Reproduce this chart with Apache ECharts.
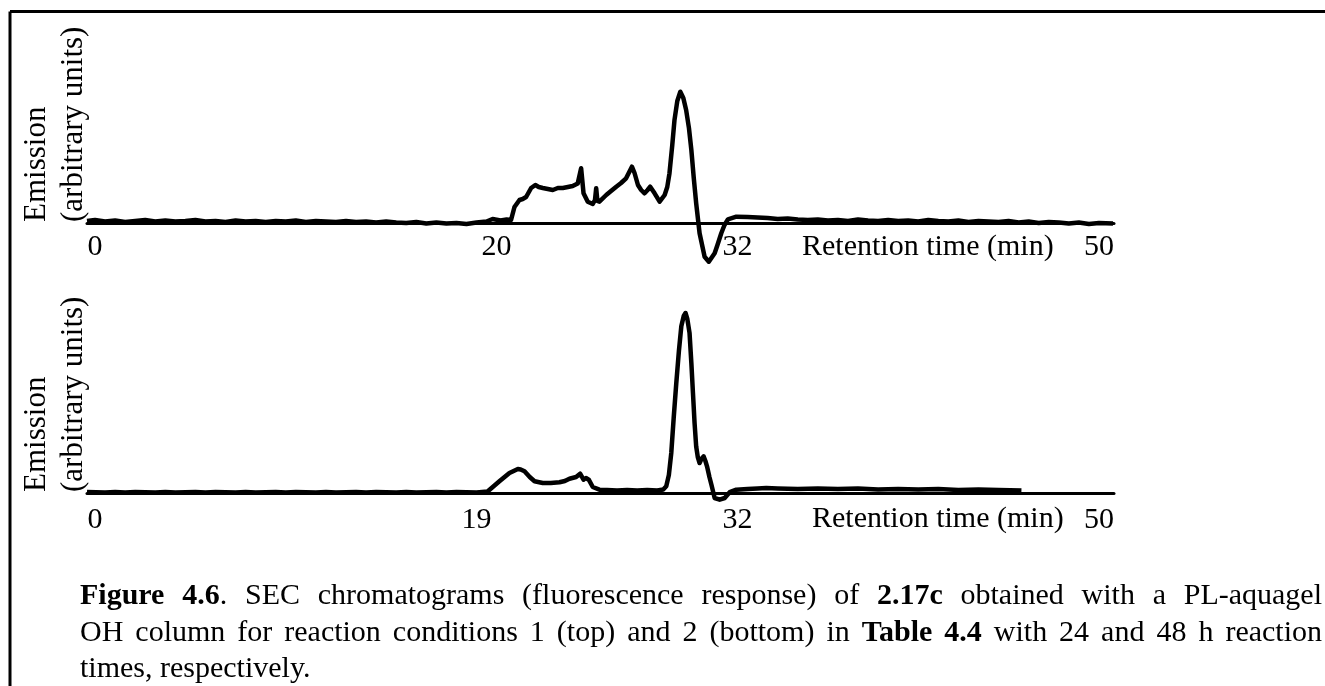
<!DOCTYPE html>
<html>
<head>
<meta charset="utf-8">
<title>SEC chromatograms</title>
<script src="https://cdn.jsdelivr.net/npm/echarts@6/dist/echarts.min.js"></script>
<style>
  html, body { margin: 0; padding: 0; background: #fff; }
  #chart { width: 1325px; height: 686px; }
</style>
</head>
<body>
<div id="chart"></div>
<script>
// retention time (min), emission (arbitrary units)
var topTrace = [
  [-0.4,2],[0,3],[0.5,1.5],[1,2.5],[1.5,1],[2,2],[2.5,3],[3,1.5],[3.5,2.5],[4,1.5],[4.5,2],[5,3],[5.5,1.5],[6,2],[6.5,1],
  [7,2.5],[7.5,1.5],[8,2],[8.5,1],[9,2],[9.5,1.5],[10,2.5],[10.5,1],[11,2],[11.5,1.5],[12,1],[12.5,2],[13,1],[13.5,1.5],
  [14,0.5],[14.5,1.5],[15,0.5],[15.5,0],[16,1],[16.5,-0.5],[17,0.5],[17.5,-0.5],[18,0],[18.5,-1],[19,0.5],[19.5,1.5],
  [19.8,4],[20.2,2.5],[20.5,3.5],[20.72,3],[20.89,16],[21.14,23],[21.3,24],[21.47,26],[21.72,35],[21.93,38],[22.1,36],
  [22.3,35],[22.55,34],[22.8,33],[23.05,35],[23.3,35],[23.55,36],[23.79,37],[24.04,39.5],[24.21,54.7],[24.33,29.7],
  [24.54,21.3],[24.79,19],[24.9,23],[24.96,34.7],[25.02,22],[25.12,21.3],[25.46,28],[25.7,32],[25.96,36.3],[26.2,40],
  [26.45,44.7],[26.74,56.3],[26.87,50],[27.04,38],[27.2,33],[27.37,29.7],[27.52,33],[27.65,36.3],[27.87,29.7],[28.12,21.3],
  [28.37,28],[28.5,36],[28.61,49.7],[28.75,78],[28.86,103],[29.0,122],[29.15,131.3],[29.3,125],[29.44,113],[29.58,95],
  [29.7,73],[29.82,45],[29.94,19.7],[30.11,-10.3],[30.36,-33.7],[30.57,-38.7],[30.86,-30.3],[31.0,-22],[31.19,-10.3],
  [31.35,-2],[31.52,3.7],[31.94,6.3],[32.5,6],[33,5.5],[33.5,5],[34,4],[34.5,4.5],[35,3.5],[35.5,3],[36,3.5],[36.5,2.5],
  [37,3],[37.5,2],[38,3.5],[38.5,2.5],[39,2],[39.5,3],[40,2],[40.5,2.5],[41,1.5],[41.5,3],[42,2],[42.5,1.5],[43,2.5],
  [43.5,1],[44,2],[44.5,1.5],[45,1],[45.5,2],[46,0.5],[46.5,1.5],[47,0],[47.5,1],[48,0.5],[48.5,-0.5],[49,0.5],[49.5,-1],
  [50,0],[50.7,-0.5]
];

var bottomTrace = [
  [-0.4,1],[0.5,0.5],[1,1],[1.5,0.5],[2,1],[3,0.5],[3.5,1],[4,0.5],[5,1],[5.5,0.5],[6,1],[7,0.5],[7.5,1],[8,0.5],[9,1],
  [9.5,0.5],[10,1],[11,0.5],[11.5,1],[12,0.5],[13,1],[13.5,0.5],[14,1],[15,0.5],[15.5,1],[16,0.5],[17,1],[17.5,0.5],
  [18,1],[19,0.5],[19.55,1.5],[20.14,11.7],[20.64,20],[21.06,24],[21.2,23.5],[21.39,21.7],[21.65,16],[21.89,11.7],
  [22.3,10],[22.7,10],[23.13,10.7],[23.4,12],[23.63,14.3],[23.96,16],[24.16,19.3],[24.33,13.3],[24.45,15],[24.59,13.3],
  [24.79,6],[25.12,3.3],[25.5,3],[26,2.5],[26.5,3],[27,2.5],[27.5,3],[28,2.5],[28.3,3.5],[28.45,6.7],[28.58,18],[28.7,40],
  [28.82,75],[28.95,110],[29.08,142],[29.2,166.7],[29.32,177],[29.41,180],[29.5,174],[29.61,160],[29.7,130],[29.78,100],
  [29.86,70],[29.94,46.7],[30.02,36],[30.11,30],[30.2,34],[30.31,36.7],[30.4,32],[30.48,26.7],[30.6,16],[30.7,8.3],
  [30.86,-5],[31.11,-6.7],[31.36,-5],[31.61,0.8],[31.94,3.3],[32.5,4],[33,4.5],[33.43,5],[34,4.5],[35,4],[36,4.5],[37,4],
  [38,4.5],[39,3.5],[40,4],[41,3.5],[42,4],[43,3],[44,3.5],[45,3],[46.14,2.5]
];

var topTicks = [0, 20, 32, 50];
var bottomTicks = [0, 19, 32, 50];

var xTitle = 'Retention time (min)';
var yTitle = ['Emission', '(arbitrary units)'];

// caption words, each word is a list of [text, bold] runs
var captionLines = [
  [[['Figure',1]], [['4.6',1],['.',0]], 'SEC', 'chromatograms', '(fluorescence', 'response)', 'of', [['2.17c',1]],
   'obtained', 'with', 'a', 'PL-aquagel'],
  ['OH', 'column', 'for', 'reaction', 'conditions', '1', '(top)', 'and', '2', '(bottom)', 'in', [['Table',1]], [['4.4',1]],
   'with', '24', 'and', '48', 'h', 'reaction'],
  ['times,', 'respectively.']
];

var FONT = '"Liberation Serif", "Times New Roman", serif';
var CAP_SIZE = 30;

var measureCtx = document.createElement('canvas').getContext('2d');
function measure(text, bold) {
    measureCtx.font = (bold ? 'bold ' : '') + CAP_SIZE + 'px ' + FONT;
    return measureCtx.measureText(text).width;
}

// justified caption lines (last line left aligned)
function captionGraphics(x0, x1, yList) {
    var els = [];
    captionLines.forEach(function (line, li) {
        var words = line.map(function (w) { return typeof w === 'string' ? [[w, 0]] : w; });
        var widths = words.map(function (w) {
            return w.reduce(function (s, r) { return s + measure(r[0], r[1]); }, 0);
        });
        var total = widths.reduce(function (a, b) { return a + b; }, 0);
        var gap = li < captionLines.length - 1 ? (x1 - x0 - total) / (words.length - 1) : measure(' ', 0);
        var x = x0;
        words.forEach(function (w, wi) {
            var rx = x;
            w.forEach(function (r) {
                els.push({
                    type: 'text', x: rx, y: yList[li], silent: true,
                    style: {
                        text: r[0], fill: '#000', fontSize: CAP_SIZE, fontFamily: FONT,
                        fontWeight: r[1] ? 'bold' : 'normal', align: 'left', verticalAlign: 'middle'
                    }
                });
                rx += measure(r[0], r[1]);
            });
            x += widths[wi] + gap;
        });
    });
    return els;
}

function yTitleGraphics(xs, yStart) {
    return yTitle.map(function (t, i) {
        return {
            type: 'text', x: xs[i], y: yStart, rotation: Math.PI / 2, silent: true,
            style: { text: t, fill: '#000', fontSize: 31, fontFamily: FONT, align: 'left', verticalAlign: 'middle' }
        };
    });
}

function xAxisOf(idx, ticks, margin) {
    return {
        type: 'value', gridIndex: idx, min: -0.4, max: 50.75,
        axisLine: { onZero: false, lineStyle: { color: '#000', width: 3 } },
        axisTick: { show: false },
        splitLine: { show: false },
        axisLabel: {
            customValues: ticks, margin: margin, color: '#000', fontSize: 30, fontFamily: FONT
        }
    };
}

function yAxisOf(idx, max) {
    return {
        type: 'value', gridIndex: idx, min: 0, max: max,
        axisLine: { show: false }, axisTick: { show: false },
        axisLabel: { show: false }, splitLine: { show: false }
    };
}

// the negative dip goes below the axis, so no clipping
function traceOf(idx, data) {
    return {
        type: 'line', xAxisIndex: idx, yAxisIndex: idx, data: data,
        showSymbol: false, smooth: false, clip: false, z: 3,
        lineStyle: { color: '#000', width: 4.5, join: 'round' }
    };
}

var chart = echarts.init(document.getElementById('chart'));

var graphics = [
    // frame (left and top edge)
    { type: 'line', silent: true, shape: { x1: 10, y1: 11.5, x2: 10, y2: 686 }, style: { stroke: '#000', lineWidth: 3 } },
    { type: 'line', silent: true, shape: { x1: 10, y1: 11.5, x2: 1325, y2: 11.5 }, style: { stroke: '#000', lineWidth: 3 } },
    { type: 'text', x: 802, y: 247, silent: true,
      style: { text: xTitle, fill: '#000', fontSize: 30, fontFamily: FONT, align: 'left', verticalAlign: 'middle' } },
    { type: 'text', x: 812, y: 519, silent: true,
      style: { text: xTitle, fill: '#000', fontSize: 30, fontFamily: FONT, align: 'left', verticalAlign: 'middle' } }
];
graphics = graphics.concat(yTitleGraphics([37, 74], 222));
graphics = graphics.concat(yTitleGraphics([37, 74], 492));
graphics = graphics.concat(captionGraphics(80, 1322, [596, 633, 669]));

var option = {
    animation: false,
    backgroundColor: '#fff',
    grid: [
        { left: 87, right: 211, top: 73, height: 150 },
        { left: 87, right: 211, top: 293, height: 200 }
    ],
    xAxis: [xAxisOf(0, topTicks, 9), xAxisOf(1, bottomTicks, 12)],
    yAxis: [yAxisOf(0, 150), yAxisOf(1, 200)],
    series: [traceOf(0, topTrace), traceOf(1, bottomTrace)],
    graphic: { elements: graphics }
};

chart.setOption(option);
</script>
</body>
</html>
